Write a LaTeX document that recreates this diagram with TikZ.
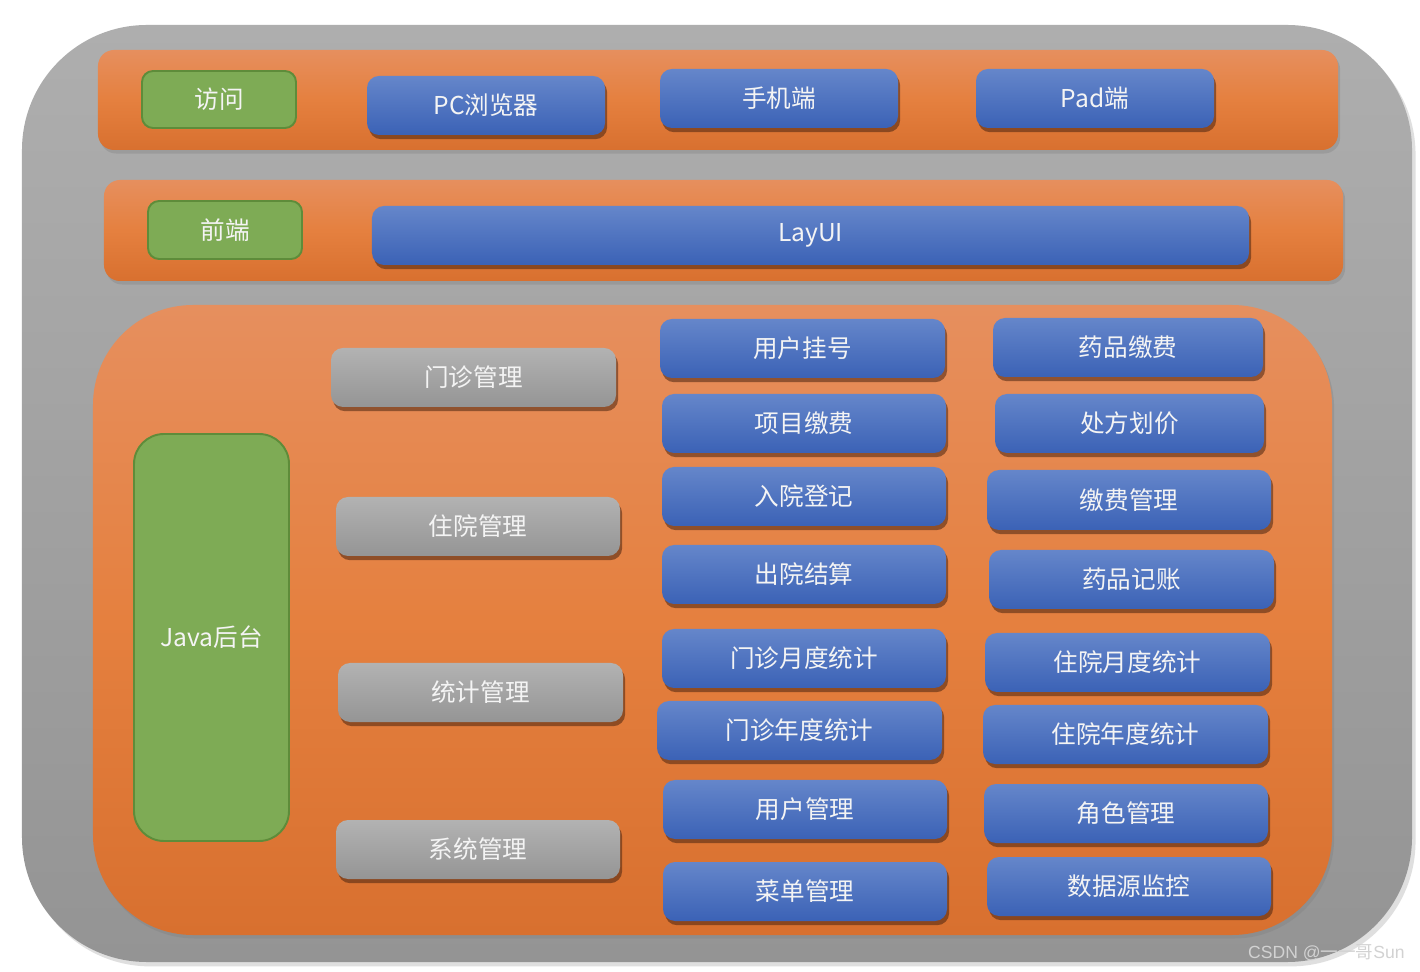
\documentclass[tikz,border=0pt]{standalone}
\usepackage{fontspec}
\setmainfont{Noto Sans CJK SC}
\newfontfamily\wmfont{Liberation Sans}
\usetikzlibrary{shadows}
\definecolor{grayT}{HTML}{AEAEAE}
\definecolor{grayB}{HTML}{949494}
\definecolor{orT}{HTML}{E68F5E}
\definecolor{orM}{HTML}{E5803F}
\definecolor{orB}{HTML}{D8702F}
\definecolor{blT}{HTML}{6586CA}
\definecolor{blB}{HTML}{3B62B6}
\definecolor{gbT}{HTML}{B2B2B2}
\definecolor{gbB}{HTML}{959595}
\definecolor{grF}{HTML}{7EAB55}
\definecolor{grD}{HTML}{5E8C3A}
\definecolor{txt}{HTML}{F4F4F4}
\definecolor{wm}{HTML}{D2D2D2}
\definecolor{shd}{HTML}{4A2410}
\tikzset{
  base/.style={inner sep=0pt, outer sep=0pt, text=txt, font=\fontsize{14}{16}\selectfont},
  outerbox/.style={base, rounded corners=2.5cm, top color=grayT, bottom color=grayB,
    drop shadow={shadow xshift=2pt, shadow yshift=-2.5pt, opacity=0.25}},
  orbar/.style={base, rounded corners=0.32cm, top color=orT, bottom color=orB, middle color=orM,
    drop shadow={shadow xshift=1.2pt, shadow yshift=-2pt, opacity=0.35}},
  orpanel/.style={base, rounded corners=2cm, top color=orT, bottom color=orB, middle color=orM,
    drop shadow={shadow xshift=1.2pt, shadow yshift=-2pt, opacity=0.35}},
  bluebox/.style={base, rounded corners=0.24cm, top color=blT, bottom color=blB,
    drop shadow={shadow xshift=1.2pt, shadow yshift=-2.4pt, opacity=0.55, fill=shd}},
  graybox/.style={base, rounded corners=0.24cm, top color=gbT, bottom color=gbB,
    drop shadow={shadow xshift=1.2pt, shadow yshift=-2.4pt, opacity=0.55, fill=shd}},
  greenbox/.style={base, rounded corners=0.22cm, fill=grF, draw=grD, line width=1.1pt},
  javabox/.style={greenbox, rounded corners=0.6cm},
}
\newcommand\bx[7]{%
  \pgfmathsetmacro\bxw{(#5-#3)*0.02}%
  \pgfmathsetmacro\bxh{(#6-#4)*0.02}%
  \node[#2, minimum width=\bxw cm, minimum height=\bxh cm] (#1) at ({(#3+#5)/2},{(#4+#6)/2}) {#7};}
\begin{document}
\begin{tikzpicture}[x=0.02cm,y=-0.02cm]
\path[use as bounding box, fill=white] (0,0) rectangle (1420,972);
% outer frame
\bx{outer}{outerbox}{22}{25}{1412}{962}{}
% orange bands
\bx{access}{orbar}{98}{50}{1338}{150}{}
\bx{front}{orbar}{104}{180}{1343}{281}{}
\bx{back}{orpanel}{93}{305}{1332}{935}{}
% access row
\bx{fangwen}{greenbox}{142}{71}{296}{128}{访问}
\bx{pc}{bluebox}{367}{76}{605}{135}{PC浏览器}
\bx{phone}{bluebox}{660}{69}{898}{128}{手机端}
\bx{pad}{bluebox}{976}{69}{1214}{128}{Pad端}
% front row
\bx{qianduan}{greenbox}{148}{201}{302}{259}{前端}
\bx{layui}{bluebox}{372}{206}{1249}{265}{LayUI}
% back end
\bx{java}{javabox}{134}{434}{289}{841}{Java后台}
\bx{mz}{graybox}{331}{348}{616}{407}{门诊管理}
\bx{zy}{graybox}{336}{497}{620}{556}{住院管理}
\bx{tj}{graybox}{338}{663}{623}{722}{统计管理}
\bx{xt}{graybox}{336}{820}{620}{879}{系统管理}
% middle column
\bx{a1}{bluebox}{660}{319}{945}{378}{用户挂号}
\bx{a2}{bluebox}{662}{394}{946}{453}{项目缴费}
\bx{a3}{bluebox}{662}{467}{946}{526}{入院登记}
\bx{a4}{bluebox}{662}{545}{946}{604}{出院结算}
\bx{a5}{bluebox}{662}{629}{946}{688}{门诊月度统计}
\bx{a6}{bluebox}{657}{701}{942}{760}{门诊年度统计}
\bx{a7}{bluebox}{663}{780}{947}{839}{用户管理}
\bx{a8}{bluebox}{663}{862}{947}{921}{菜单管理}
% right column
\bx{b1}{bluebox}{993}{318}{1263}{377}{药品缴费}
\bx{b2}{bluebox}{995}{394}{1264}{453}{处方划价}
\bx{b3}{bluebox}{987}{470}{1271}{530}{缴费管理}
\bx{b4}{bluebox}{989}{550}{1274}{609}{药品记账}
\bx{b5}{bluebox}{985}{633}{1270}{692}{住院月度统计}
\bx{b6}{bluebox}{983}{705}{1268}{764}{住院年度统计}
\bx{b7}{bluebox}{984}{784}{1268}{843}{角色管理}
\bx{b8}{bluebox}{987}{857}{1271}{916}{数据源监控}
% watermark
\node[anchor=east, inner sep=0pt, text=wm, font=\fontsize{10}{12}\selectfont] (wmark) at (1405,953) {\wmfont CSDN @\normalfont 一一哥\wmfont Sun};
\end{tikzpicture}
\end{document}
